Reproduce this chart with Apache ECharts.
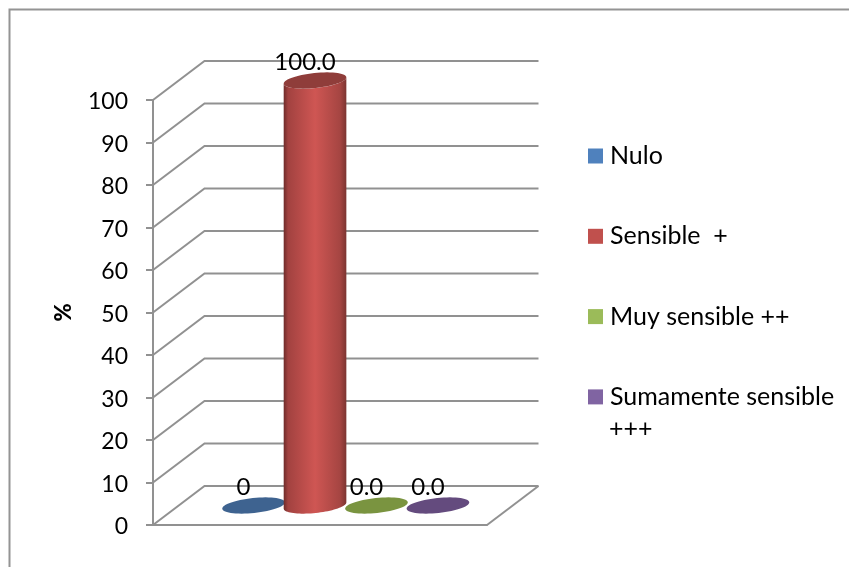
<!DOCTYPE html>
<html>
<head>
<meta charset="utf-8">
<style>html,body{margin:0;padding:0;background:#fff}#chart{width:849px;height:567px}</style>
<script src="https://cdn.jsdelivr.net/npm/echarts@6/dist/echarts.min.js"></script>
</head>
<body>
<div id="chart"></div>
<script>
const seriesNames = ['Nulo', 'Sensible  +', 'Muy sensible ++', 'Sumamente sensible'];
const seriesValues = [0, 100, 0, 0];
const valueLabels = ['0', '100.0', '0.0', '0.0'];
const seriesColors = ['#4F81BD', '#C0504D', '#9BBB59', '#8064A2'];
const capColors = ['#3E6390', '#8F3D3A', '#7A9440', '#644B7E'];
const sideColors = [
  ['#2c4a6e', '#96403d', '#5a8fd0', '#96403d', '#2c4a6e'],
  ['#6f2b29', '#A24240', '#CF5653', '#A54542', '#7c3431'],
  ['#5c7030', '#96403d', '#a9cc62', '#96403d', '#5c7030'],
  ['#4a3760', '#96403d', '#8e70b4', '#96403d', '#4a3760']
];
const yTicks = [0, 10, 20, 30, 40, 50, 60, 70, 80, 90, 100];
const wrappedLegendLine = '+++';

// Oblique projection used for the fake 3D box
const DEPTH_X = 51.5;
const DEPTH_Y = 39;
const TILT = -6 * Math.PI / 180;
const RX = 31.5;
const RY = 7.5;
const SLOT = 0.184;
const FONT = 'Lato, "Noto Sans", sans-serif';
const GRID_COLOR = '#919191';
const GRID_WIDTH = 2;

function ellipsePoint(cx, cy, t) {
  const c = Math.cos(t), s = Math.sin(t);
  return [
    cx + RX * c * Math.cos(TILT) - RY * s * Math.sin(TILT),
    cy + RX * c * Math.sin(TILT) + RY * s * Math.cos(TILT)
  ];
}

function ellipsePolygon(cx, cy, from, to, steps) {
  const pts = [];
  for (let i = 0; i <= steps; i++) {
    pts.push(ellipsePoint(cx, cy, from + (to - from) * i / steps));
  }
  return pts;
}

// Back walls and floor: one polyline per value tick
function renderWall(params, api) {
  const v = api.value(1);
  const y = api.coord([0, v])[1];
  const cs = params.coordSys;
  const x0 = cs.x, x1 = cs.x + cs.width;
  const style = { stroke: GRID_COLOR, lineWidth: GRID_WIDTH, fill: null };
  const children = [{
    type: 'polyline',
    shape: { points: [[x0, y], [x0 + DEPTH_X, y - DEPTH_Y], [x1 + DEPTH_X, y - DEPTH_Y]] },
    style
  }];
  if (v === 0) {
    children.push({
      type: 'line',
      shape: { x1: x1, y1: y, x2: x1 + DEPTH_X, y2: y - DEPTH_Y },
      style
    });
  }
  return { type: 'group', children };
}

// Cylinder for one series, standing halfway into the floor depth
function makeCylinder(idx) {
  return function (params, api) {
    const base = api.coord([0, 0]);
    const top = api.coord([0, api.value(1)]);
    const band = api.size([1, 0])[0];
    const cx = base[0] + DEPTH_X / 2 + (idx - 1.5) * band * SLOT;
    const by = base[1] - DEPTH_Y / 2;
    const ty = top[1] - DEPTH_Y / 2;
    const children = [];
    if (by - ty > 0.5) {
      const lower = ellipsePolygon(cx, by, 0, Math.PI, 40);
      const upper = ellipsePolygon(cx, ty, Math.PI, 0, 40);
      const sides = sideColors[idx];
      children.push({
        type: 'polygon',
        shape: { points: lower.concat(upper) },
        style: {
          fill: new echarts.graphic.LinearGradient(0, 0, 1, 0, [
            { offset: 0, color: sides[0] },
            { offset: 0.07, color: sides[1] },
            { offset: 0.5, color: sides[2] },
            { offset: 0.9, color: sides[3] },
            { offset: 1, color: sides[4] }
          ])
        }
      });
    }
    children.push({
      type: 'polygon',
      shape: { points: ellipsePolygon(cx, ty, 0, Math.PI * 2, 60) },
      style: { fill: capColors[idx] }
    });
    children.push({
      type: 'text',
      style: {
        text: valueLabels[idx],
        x: cx - 10,
        y: ty - 18,
        align: 'center',
        verticalAlign: 'middle',
        font: '24px ' + FONT,
        fill: '#000'
      }
    });
    return { type: 'group', children };
  };
}

const chart = echarts.init(document.getElementById('chart'), null, { renderer: 'canvas' });

chart.setOption({
  animation: false,
  backgroundColor: '#fff',
  grid: { left: 153, top: 100, width: 334, height: 425, containLabel: false },
  legend: {
    orient: 'vertical',
    left: 588,
    top: 141,
    padding: 0,
    itemWidth: 15,
    itemHeight: 15,
    itemGap: 50.3,
    icon: 'rect',
    data: seriesNames,
    selectedMode: false,
    textStyle: { fontFamily: FONT, fontSize: 25, color: '#000', lineHeight: 30, padding: [0, 0, 0, 2] }
  },
  xAxis: {
    type: 'category',
    data: [''],
    axisLine: { show: true, lineStyle: { color: GRID_COLOR, width: GRID_WIDTH } },
    axisTick: { show: false },
    axisLabel: { show: false }
  },
  yAxis: {
    type: 'value',
    min: 0,
    max: 100,
    interval: 10,
    name: '%',
    nameLocation: 'middle',
    nameGap: 78,
    nameRotate: 90,
    nameTextStyle: { fontFamily: FONT, fontSize: 22, fontWeight: 900, color: '#000' },
    axisLine: { show: true, lineStyle: { color: GRID_COLOR, width: GRID_WIDTH } },
    axisTick: { show: true, length: 7, lineStyle: { color: GRID_COLOR, width: GRID_WIDTH } },
    axisLabel: { fontFamily: FONT, fontSize: 23, color: '#000', margin: 25, verticalAlign: 'top', lineHeight: 4, customValues: yTicks },
    splitLine: { show: false }
  },
  graphic: [
    {
      type: 'polyline',
      shape: { points: [[9.5, 567], [9.5, 9.5], [849, 9.5]] },
      style: { stroke: '#949494', lineWidth: 2, fill: null },
      silent: true
    },
    {
      type: 'text',
      left: 609,
      top: 416,
      style: { text: wrappedLegendLine, font: '25px ' + FONT, fill: '#000' },
      silent: true
    }
  ],
  series: [
    {
      type: 'custom',
      name: 'walls',
      renderItem: renderWall,
      encode: { x: 0, y: 1 },
      data: yTicks.map(v => [0, v]),
      silent: true,
      clip: false,
      z: 1
    }
  ].concat(seriesNames.map((name, i) => ({
    type: 'custom',
    name,
    renderItem: makeCylinder(i),
    encode: { x: 0, y: 1 },
    data: [[0, seriesValues[i]]],
    itemStyle: { color: seriesColors[i] },
    clip: false,
    z: 2 + i
  })))
});
</script>
</body>
</html>
